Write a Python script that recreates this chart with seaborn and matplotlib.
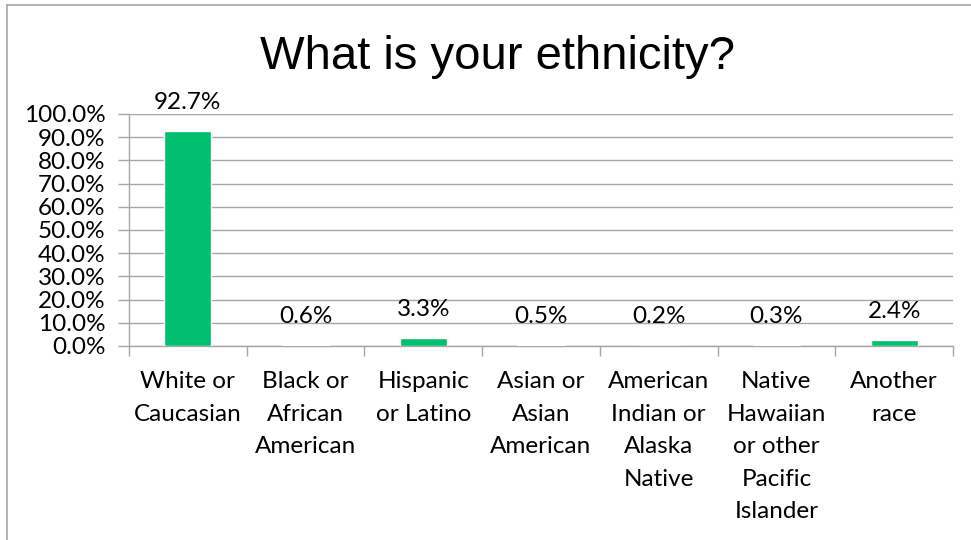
import numpy as np
import pandas as pd
import seaborn as sns
import matplotlib.pyplot as plt
from matplotlib.lines import Line2D
from matplotlib.ticker import PercentFormatter, FixedLocator

categories = ["White or\nCaucasian", "Black or\nAfrican\nAmerican", "Hispanic\nor Latino",
              "Asian or\nAsian\nAmerican", "American\nIndian or\nAlaska\nNative",
              "Native\nHawaiian\nor other\nPacific\nIslander", "Another\nrace"]
shares = [92.7, 0.6, 3.3, 0.5, 0.2, 0.3, 2.4]
y_ticks = [0, 10, 20, 30, 40, 50, 60, 70, 80, 90, 100]

df = pd.DataFrame({"category": categories, "share": shares})

sns.set_theme(style="white")
plt.rcParams['font.family'] = ['Lato', 'DejaVu Sans']
plt.rcParams['text.color'] = 'black'
plt.rcParams['xtick.labelcolor'] = 'black'
plt.rcParams['ytick.labelcolor'] = 'black'

fig = plt.figure(figsize=(9.71, 5.4), dpi=100)
ax = fig.add_axes([129 / 971, 1 - 346 / 540, (953 - 129) / 971, (346 - 114) / 540])

sns.barplot(data=df, x="category", y="share", color="#00BF6F", width=0.4,
            saturation=1, ax=ax, zorder=3)

ax.set_ylim(0, 100)
ax.set_xlim(-0.5, len(categories) - 0.5)
ax.yaxis.set_major_locator(FixedLocator(y_ticks))
ax.yaxis.set_major_formatter(PercentFormatter(decimals=1))
ax.grid(axis="y", color="#A6A6A6", linewidth=1, zorder=0)
ax.set_xlabel("")
ax.set_ylabel("")

for s in ["top", "right"]:
    ax.spines[s].set_visible(False)
for s in ["left", "bottom"]:
    ax.spines[s].set_color("#A6A6A6")
    ax.spines[s].set_linewidth(1)

ax.tick_params(axis="y", which="major", direction="out", length=8, width=1,
               color="#A6A6A6", labelsize=17.5, pad=9, left=True)
ax.tick_params(axis="x", which="major", length=0, labelsize=17.5, pad=18)
ax.set_xticks(np.arange(-0.5, len(categories)), minor=True)
ax.tick_params(axis="x", which="minor", direction="out", length=7, width=1,
               color="#A6A6A6", bottom=True)
for lab in ax.get_xticklabels():
    lab.set_linespacing(1.68)
    lab.set_va("top")

for i, v in enumerate(shares):
    ax.annotate(f"{v:.1f}%", (i, v), xytext=(0, 13), textcoords="offset points",
                ha="center", va="bottom", fontsize=17.5, color="black")

fig.text(0.512, 1 - 57 / 540, "What is your ethnicity?", ha="center", va="center",
         fontsize=34, color="black", family=["Liberation Sans", "DejaVu Sans"])

# chart area border
fig.add_artist(Line2D([7 / 971, 7 / 971], [0, 1 - 5 / 540], transform=fig.transFigure,
                      color="#A6A6A6", linewidth=1.2))
fig.add_artist(Line2D([7 / 971, 1], [1 - 5 / 540, 1 - 5 / 540], transform=fig.transFigure,
                      color="#A6A6A6", linewidth=1.2))

fig.savefig("out.png", dpi=100)
